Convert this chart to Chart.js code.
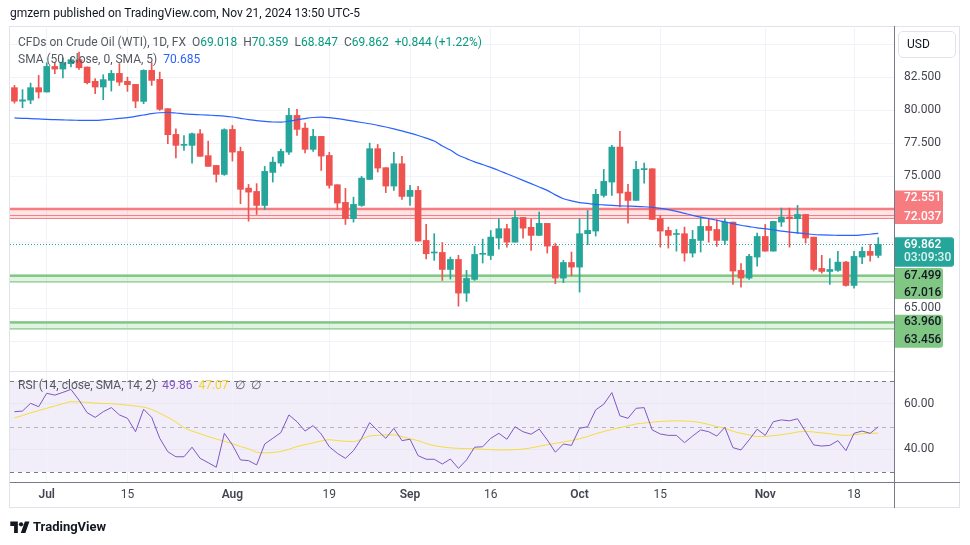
<!DOCTYPE html>
<html>
<head>
<meta charset="utf-8">
<title>CFDs on Crude Oil (WTI), 1D</title>
<script src="https://cdn.jsdelivr.net/npm/chart.js@4.4.1/dist/chart.umd.min.js"></script>
<style>
    html, body { margin: 0; padding: 0; background: #ffffff; }
    body {
        position: relative; width: 970px; height: 545px; overflow: hidden;
        font-family: Roboto, 'Noto Sans', sans-serif; color: #131722;
    }
    #chart { position: absolute; left: 0; top: 0; }
    .txt { position: absolute; white-space: pre; line-height: 16px; }
    .head { left: 10px; top: 5px; font-size: 12px; }
    .legend { left: 18px; font-size: 12px; color: #555862; }
    .legend .v { margin-left: 6px; }
    .up { color: #089981; }
    .sma { color: #2962ff; }
    .rsi { color: #7e57c2; }
    .rsima { color: #f2d52a; }
    .usd {
        position: absolute; left: 898px; top: 31px; width: 48px; height: 25px;
        border: 1px solid #e0e3eb; border-radius: 5px; padding-left: 8px;
        font-size: 12px; line-height: 25px;
    }
    .brand {
        position: absolute; left: 10px; top: 519px; font-size: 13px; font-weight: 700;
        display: flex; align-items: center; gap: 3px; line-height: 16px;
    }
</style>
</head>
<body>
<canvas id="chart" width="970" height="545"></canvas>
<div class="txt head">gmzern published on TradingView.com, Nov 21, 2024 13:50 UTC-5</div>
<div class="txt legend" id="legOhlc" style="top:34px"></div>
<div class="txt legend" id="legSma" style="top:51px"></div>
<div class="txt legend" id="legRsi" style="top:377px"></div>
<div class="usd">USD</div>
<div class="brand">
    <svg width="20" height="14" viewBox="0 0 36 26"><path d="M14 24H7V11H0V3h14v21z" fill="#131722"/><circle cx="20" cy="8" r="4" fill="#131722"/><path d="M28 24h-8.5L27 3h8.5L28 24z" fill="#131722"/></svg>
    <span>TradingView</span>
</div>
<script>
// daily candles, Jun 25 - Nov 21 2024 (weekdays)
const firstDay = '2024-06-25';
const lastDay = '2024-11-21';

const opens = [
    81.72, 80.70, 80.78, 81.72, 81.39, 83.33, 83.13, 83.54, 83.84, 83.28,
    82.20, 81.77, 82.27, 82.80, 82.20, 81.97, 80.68, 83.03, 82.35, 80.13,
    78.18, 77.35, 77.35, 78.23, 76.57, 75.83, 75.15, 78.56, 76.89, 74.11,
    73.86, 72.80, 75.30, 76.01, 76.84, 79.62, 78.66, 77.05, 78.03, 76.59,
    74.37, 73.03, 71.80, 72.80, 74.77, 77.10, 75.66, 74.27, 75.96, 73.48,
    73.94, 70.15, 69.20, 69.24, 67.95, 68.71, 66.16, 67.20, 69.10, 69.01,
    70.33, 71.04, 70.02, 71.89, 71.14, 70.53, 71.44, 69.72, 67.30, 68.48,
    68.13, 70.66, 70.86, 73.56, 74.57, 77.22, 73.81, 73.18, 75.51, 75.58,
    71.80, 70.91, 70.60, 70.66, 69.19, 70.15, 71.21, 70.98, 70.15, 71.54,
    67.88, 67.30, 68.89, 70.45, 69.34, 71.54, 71.92, 71.80, 72.12, 70.40,
    68.03, 67.80, 67.88, 68.51, 66.74, 68.89, 69.32, 69.018
];
const highs = [
    81.89, 81.57, 82.07, 82.65, 83.61, 83.61, 83.99, 83.99, 84.42, 83.30,
    82.40, 82.70, 83.03, 83.54, 82.52, 81.97, 83.08, 83.61, 82.90, 80.13,
    78.61, 78.10, 78.28, 78.54, 77.67, 75.83, 78.61, 78.86, 77.22, 74.39,
    74.45, 75.76, 76.46, 77.07, 80.15, 80.08, 79.04, 78.56, 78.03, 76.82,
    74.37, 74.09, 73.43, 75.00, 77.52, 77.42, 75.66, 76.82, 76.52, 74.32,
    74.24, 71.36, 70.66, 69.98, 68.89, 69.02, 67.88, 69.70, 70.25, 70.90,
    71.80, 71.36, 72.42, 71.89, 71.76, 72.30, 71.44, 69.92, 68.64, 69.27,
    71.80, 72.42, 74.02, 75.53, 77.35, 78.41, 74.39, 76.14, 76.01, 75.58,
    72.05, 71.16, 70.98, 71.16, 70.91, 71.92, 71.80, 71.72, 71.80, 71.54,
    68.39, 69.09, 70.70, 71.36, 71.59, 72.60, 72.60, 72.80, 72.12, 70.40,
    69.02, 68.77, 69.32, 68.56, 69.32, 69.64, 69.85, 70.359
];
const lows = [
    80.55, 80.20, 80.51, 80.93, 81.39, 82.78, 82.45, 83.30, 83.10, 82.00,
    81.27, 80.81, 81.46, 81.89, 81.44, 80.20, 80.51, 81.89, 80.00, 77.48,
    76.39, 76.97, 76.00, 76.52, 75.76, 74.57, 75.08, 76.16, 72.93, 71.61,
    72.12, 72.50, 74.57, 75.78, 76.67, 78.11, 76.77, 76.89, 75.45, 74.11,
    72.48, 71.36, 71.54, 72.73, 74.77, 75.33, 73.77, 73.94, 73.26, 72.80,
    70.10, 68.74, 68.64, 67.12, 67.22, 65.17, 65.53, 67.12, 68.44, 68.70,
    69.50, 69.64, 70.02, 70.33, 69.40, 70.53, 69.19, 66.87, 66.95, 67.48,
    66.24, 69.83, 70.48, 73.43, 73.56, 72.68, 71.46, 73.18, 74.49, 71.74,
    69.64, 69.57, 69.34, 68.58, 68.89, 69.27, 70.02, 69.70, 69.85, 66.82,
    66.61, 67.20, 68.20, 69.32, 69.34, 71.21, 69.64, 70.66, 69.95, 67.83,
    67.67, 66.82, 67.80, 66.69, 66.54, 68.39, 68.58, 68.847
];
const closes = [
    80.70, 80.80, 81.72, 81.39, 83.33, 83.13, 83.61, 83.84, 83.23, 82.10,
    81.77, 82.33, 82.80, 82.14, 81.95, 80.70, 83.03, 82.27, 80.08, 78.16,
    77.35, 77.42, 78.23, 76.52, 75.76, 75.15, 78.54, 76.84, 74.02, 73.81,
    72.80, 75.38, 76.08, 76.89, 79.62, 78.56, 77.05, 78.03, 76.54, 74.32,
    72.98, 71.80, 72.88, 74.87, 77.10, 75.63, 74.27, 75.96, 73.48, 73.94,
    70.10, 69.14, 69.24, 67.95, 68.71, 66.16, 67.27, 69.09, 69.14, 70.40,
    71.04, 70.02, 71.89, 71.08, 70.53, 71.44, 69.72, 67.30, 68.48, 68.13,
    70.66, 70.91, 73.64, 74.62, 77.22, 73.74, 73.18, 75.53, 75.59, 71.74,
    70.86, 70.53, 70.66, 69.19, 70.23, 71.21, 70.91, 70.15, 71.54, 67.83,
    67.30, 68.94, 70.45, 69.34, 71.59, 71.92, 71.80, 72.12, 70.33, 67.95,
    67.80, 67.95, 68.51, 66.74, 68.94, 69.32, 69.018, 69.862
];
const sma50 = [
    79.43, 79.40, 79.38, 79.35, 79.32, 79.30, 79.28, 79.26, 79.25, 79.24,
    79.24, 79.28, 79.33, 79.39, 79.45, 79.55, 79.65, 79.75, 79.82, 79.84,
    79.80, 79.74, 79.70, 79.67, 79.64, 79.61, 79.57, 79.50, 79.40, 79.30,
    79.22, 79.17, 79.12, 79.11, 79.18, 79.28, 79.38, 79.46, 79.49, 79.45,
    79.38, 79.28, 79.18, 79.08, 78.99, 78.87, 78.74, 78.60, 78.45, 78.28,
    78.10, 77.90, 77.68, 77.30, 77.00, 76.60, 76.35, 76.10, 75.90, 75.68,
    75.45, 75.20, 74.95, 74.70, 74.45, 74.20, 73.94, 73.60, 73.31, 73.15,
    73.02, 72.95, 72.88, 72.84, 72.80, 72.77, 72.75, 72.73, 72.70, 72.65,
    72.58, 72.48, 72.35, 72.20, 72.05, 71.92, 71.80, 71.68, 71.55, 71.42,
    71.30, 71.20, 71.10, 71.04, 70.95, 70.85, 70.78, 70.72, 70.66, 70.60,
    70.57, 70.55, 70.54, 70.53, 70.53, 70.57, 70.62, 70.685
];
const rsi14 = [
    56.5, 56.8, 60.2, 58.7, 64.6, 63.8, 65.0, 66.3, 61.6, 56.1,
    54.0, 56.5, 58.3, 55.1, 53.6, 47.7, 57.6, 54.0, 44.8, 38.9,
    36.7, 36.7, 40.9, 36.0, 34.1, 32.1, 47.0, 41.9, 35.3, 35.0,
    33.1, 42.3, 44.8, 47.3, 55.1, 52.1, 48.0, 50.4, 46.7, 41.1,
    38.2, 36.0, 39.4, 44.8, 51.7, 48.2, 44.8, 49.2, 43.8, 44.4,
    37.2, 35.6, 35.6, 33.5, 35.7, 31.6, 35.3, 40.9, 41.1, 44.8,
    47.0, 44.4, 49.9, 47.7, 46.6, 48.9, 44.1, 38.7, 42.3, 41.7,
    49.2, 49.9, 57.3, 59.8, 64.9, 54.7, 53.6, 58.0, 58.3, 48.5,
    46.7, 46.1, 46.1, 42.9, 45.8, 48.5, 47.7, 45.8, 49.6, 40.7,
    39.7, 44.1, 48.8, 46.1, 52.1, 52.9, 52.5, 53.4, 47.7, 41.9,
    41.4, 41.7, 43.8, 39.4, 47.0, 48.0, 47.0, 49.86
];
const rsiMa = [
    53.8, 54.8, 56.0, 57.0, 58.0, 59.0, 60.0, 60.9, 60.8, 60.6,
    60.3, 60.1, 60.0, 59.7, 59.4, 59.0, 58.5, 57.5, 55.8, 54.0,
    52.0, 49.5, 48.0, 46.8, 45.6, 44.5, 43.5, 42.5, 41.2, 40.2,
    38.7, 38.4, 38.6, 39.0, 40.0, 41.2, 42.0, 42.8, 43.6, 44.2,
    43.8, 43.5, 43.4, 44.5, 45.8, 46.1, 46.3, 46.3, 45.6, 44.6,
    43.8, 42.5, 41.6, 41.0, 40.6, 40.4, 40.3, 40.2, 40.0, 39.8,
    39.7, 39.7, 39.8, 40.1, 40.6, 41.3, 42.0, 42.6, 43.2, 43.8,
    44.6, 45.6, 46.8, 47.8, 48.7, 49.5, 50.3, 51.1, 51.5, 51.9,
    52.2, 52.4, 52.5, 52.4, 52.2, 51.7, 50.9, 50.0, 49.2, 47.9,
    47.0, 46.3, 45.6, 45.6, 46.0, 46.4, 46.9, 47.6, 47.8, 47.6,
    47.2, 46.8, 46.3, 46.1, 46.4, 46.8, 47.0, 47.07
];

// axes
const tickDates = ['2024-07-01', '2024-07-15', '2024-08-01', '2024-08-19', '2024-09-02',
    '2024-09-16', '2024-10-01', '2024-10-15', '2024-11-01', '2024-11-18'];
const tickNames = ['Jul', '15', 'Aug', '19', 'Sep', '16', 'Oct', '15', 'Nov', '18'];
const priceTicks = [62.5, 65, 67.5, 70, 72.5, 75, 77.5, 80, 82.5, 85];
const priceTickLabels = ['', '65.000', '', '', '', '75.000', '77.500', '80.000', '82.500', ''];
const rsiTicks = [40, 60];
const rsiLevels = [70, 50, 30];

// drawn zones (top, bottom)
const zoneTops = [72.551, 67.499, 63.960];
const zoneBottoms = [72.037, 67.016, 63.456];
const zoneKinds = ['res', 'sup', 'sup'];
const resistanceEdge = 71.83;
const countdown = '03:09:30';

const UP = '#26a69a';
const DOWN = '#ef5350';
const GRID = '#f0f3fa';

// trading days from the date range
function weekdays(a, b) {
    const out = [];
    const d = new Date(a + 'T00:00:00Z');
    const end = new Date(b + 'T00:00:00Z');
    while (d <= end) {
        const w = d.getUTCDay();
        if (w !== 0 && w !== 6) out.push(d.toISOString().slice(0, 10));
        d.setUTCDate(d.getUTCDate() + 1);
    }
    return out;
}
const days = weekdays(firstDay, lastDay);
const tickIdx = tickDates.map(d => days.indexOf(d));
const last = closes.length - 1;

// legends
const f3 = (v) => v.toFixed(3);
const chg = closes[last] - closes[last - 1];
document.getElementById('legOhlc').innerHTML =
    'CFDs on Crude Oil (WTI), 1D, FX' +
    `<span class="v">O<span class="up">${f3(opens[last])}</span></span>` +
    `<span class="v">H<span class="up">${f3(highs[last])}</span></span>` +
    `<span class="v">L<span class="up">${f3(lows[last])}</span></span>` +
    `<span class="v">C<span class="up">${f3(closes[last])}</span></span>` +
    `<span class="v up">+${f3(chg)} (+${(chg / closes[last - 1] * 100).toFixed(2)}%)</span>`;
document.getElementById('legSma').innerHTML =
    `SMA (50, close, 0, SMA, 5)<span class="v sma">${f3(sma50[last])}</span>`;
document.getElementById('legRsi').innerHTML =
    `RSI (14, close, SMA, 14, 2)<span class="v rsi">${rsi14[last].toFixed(2)}</span>` +
    `<span class="v rsima">${rsiMa[last].toFixed(2)}</span><span class="v">∅</span><span class="v">∅</span>`;

const candleColors = closes.map((c, i) => c >= opens[i] ? UP : DOWN);

const paneDecor = {
    id: 'paneDecor',
    beforeDraw(chart) {
        const { ctx, chartArea: a } = chart;
        const r = chart.scales.rsi;
        const top = r.getPixelForValue(rsiLevels[0]);
        const bottom = r.getPixelForValue(rsiLevels[2]);
        ctx.save();
        ctx.fillStyle = 'rgba(126, 87, 194, 0.1)';
        ctx.fillRect(a.left, top, a.right - a.left, bottom - top);
        ctx.restore();
    },
    beforeDatasetsDraw(chart) {
        const { ctx, chartArea: a } = chart;
        const y = chart.scales.y;
        const r = chart.scales.rsi;
        const w = a.right - a.left;
        ctx.save();

        // zones
        zoneTops.forEach((t, i) => {
            const yt = y.getPixelForValue(t);
            const yb = y.getPixelForValue(zoneBottoms[i]);
            const red = zoneKinds[i] === 'res';
            ctx.fillStyle = red ? 'rgba(242, 54, 69, 0.13)' : 'rgba(76, 175, 80, 0.16)';
            ctx.fillRect(a.left, yt, w, yb - yt);
            ctx.fillStyle = red ? '#f77c80' : '#81c784';
            ctx.fillRect(a.left, yt - 1, w, 2.5);
            ctx.fillRect(a.left, yb - 0.5, w, 1.2);
        });
        ctx.fillStyle = '#f77c80';
        ctx.fillRect(a.left, y.getPixelForValue(resistanceEdge) - 0.5, w, 1.2);

        // rsi levels
        ctx.lineWidth = 1;
        ctx.setLineDash([4, 4]);
        rsiLevels.forEach((lv, i) => {
            const py = Math.round(r.getPixelForValue(lv)) + 0.5;
            ctx.strokeStyle = i === 1 ? '#b2b5be' : '#787b86';
            ctx.beginPath();
            ctx.moveTo(a.left, py);
            ctx.lineTo(a.right, py);
            ctx.stroke();
        });

        // last price
        const lp = Math.round(y.getPixelForValue(closes[last])) + 0.5;
        ctx.setLineDash([1, 2]);
        ctx.strokeStyle = UP;
        ctx.beginPath();
        ctx.moveTo(a.left, lp);
        ctx.lineTo(a.right, lp);
        ctx.stroke();
        ctx.restore();
    },
    afterDraw(chart) {
        const { ctx, chartArea: a } = chart;
        const y = chart.scales.y;
        ctx.save();

        // frame, pane split and axis lines
        ctx.strokeStyle = '#e0e3eb';
        ctx.lineWidth = 1;
        ctx.strokeRect(9.5, 26.5, 950, 481);
        ctx.beginPath();
        ctx.moveTo(a.left, Math.round(chart.scales.rsi.top) + 0.5);
        ctx.lineTo(a.right, Math.round(chart.scales.rsi.top) + 0.5);
        ctx.stroke();
        ctx.strokeStyle = '#787b86';
        ctx.beginPath();
        ctx.moveTo(a.right + 0.5, 26);
        ctx.lineTo(a.right + 0.5, 508);
        ctx.moveTo(a.left, a.bottom + 0.5);
        ctx.lineTo(960, a.bottom + 0.5);
        ctx.stroke();

        // price badges
        const x0 = a.right + 1;
        const tx = a.right + 10;
        ctx.textBaseline = 'middle';
        ctx.textAlign = 'left';
        const badge = (top, bottom, width, fill) => {
            ctx.fillStyle = fill;
            ctx.beginPath();
            ctx.roundRect(x0, top, width, bottom - top, [0, 3, 3, 0]);
            ctx.fill();
        };

        const r2 = y.getPixelForValue(zoneBottoms[0]) + 1;
        const r1 = r2 - 18.4;
        badge(r1 - 7.7, r2 + 7.6, 48, '#f77c80');
        ctx.font = '500 12px Roboto';
        ctx.fillStyle = '#ffffff';
        ctx.fillText(zoneTops[0].toFixed(3), tx, r1);
        ctx.fillText(zoneBottoms[0].toFixed(3), tx, r2);

        const p1 = y.getPixelForValue(closes[last]) + 0.8;
        badge(p1 - 7.7, p1 + 21.8, 59, UP);
        ctx.fillStyle = '#ffffff';
        ctx.fillText(f3(closes[last]), tx, p1);
        ctx.fillStyle = 'rgba(255,255,255,0.85)';
        ctx.fillText(countdown, tx, p1 + 13);

        [1, 2].forEach((k) => {
            const g1 = y.getPixelForValue(zoneTops[k]) + 0.3;
            const g2 = g1 + 17.6;
            badge(g1 - 7.8, g2 + (k === 1 ? 5.6 : 7.7), 48, '#81c784');
            ctx.fillStyle = '#131722';
            ctx.fillText(zoneTops[k].toFixed(3), tx, g1);
            ctx.fillText(zoneBottoms[k].toFixed(3), tx, g2);
        });
        ctx.restore();
    }
};

Chart.defaults.font.family = "Roboto, 'Noto Sans', sans-serif";
Chart.defaults.font.size = 12;
Chart.defaults.color = '#434651';

new Chart(document.getElementById('chart'), {
    data: {
        datasets: [
            {
                type: 'line', label: 'SMA 50', yAxisID: 'y',
                data: sma50.map((v, i) => ({ x: i, y: v })),
                borderColor: '#2962ff', borderWidth: 1.2, pointRadius: 0,
                cubicInterpolationMode: 'monotone'
            },
            {
                type: 'line', label: 'RSI', yAxisID: 'rsi',
                data: rsi14.map((v, i) => ({ x: i, y: v })),
                borderColor: '#7e57c2', borderWidth: 1, pointRadius: 0, tension: 0
            },
            {
                type: 'line', label: 'RSI MA', yAxisID: 'rsi',
                data: rsiMa.map((v, i) => ({ x: i, y: v })),
                borderColor: '#f5dc3c', borderWidth: 1, pointRadius: 0,
                cubicInterpolationMode: 'monotone'
            },
            {
                type: 'bar', label: 'body', yAxisID: 'y',
                data: opens.map((o, i) => ({ x: i, y: [o, closes[i]] })),
                backgroundColor: candleColors, barThickness: 6, minBarLength: 1,
                grouped: false, borderWidth: 0
            },
            {
                type: 'bar', label: 'wick', yAxisID: 'y',
                data: lows.map((l, i) => ({ x: i, y: [l, highs[i]] })),
                backgroundColor: candleColors, barThickness: 1,
                grouped: false, borderWidth: 0
            }
        ]
    },
    options: {
        responsive: false,
        animation: false,
        events: [],
        layout: { padding: { left: 10, top: 28, right: 10, bottom: 37 } },
        plugins: { legend: { display: false }, tooltip: { enabled: false } },
        scales: {
            x: {
                type: 'linear', min: -0.55, max: 108.95, offset: false,
                afterBuildTicks: (s) => { s.ticks = tickIdx.map(v => ({ value: v })); },
                afterFit: (s) => { s.height = 26; },
                ticks: {
                    autoSkip: false, maxRotation: 0, padding: 6,
                    callback: (v) => tickNames[tickIdx.indexOf(v)],
                    font: (c) => ({ size: 12, weight: /[A-Z]/.test(tickNames[c.index] || '') ? '600' : '400' })
                },
                grid: { color: GRID, drawTicks: false, offset: false },
                border: { display: false }
            },
            y: {
                type: 'linear', position: 'right', stack: 'panes', stackWeight: 343,
                min: 60.26, max: 86.24,
                afterBuildTicks: (s) => { s.ticks = priceTicks.map(v => ({ value: v })); },
                afterFit: (s) => { s.width = 66; },
                ticks: {
                    autoSkip: false, padding: 10,
                    callback: (v) => priceTickLabels[priceTicks.indexOf(v)] || ''
                },
                grid: { color: GRID, drawTicks: false },
                border: { display: false }
            },
            rsi: {
                type: 'linear', position: 'right', stack: 'panes', stackWeight: 111,
                min: 25.6, max: 74.4,
                afterBuildTicks: (s) => { s.ticks = rsiTicks.map(v => ({ value: v })); },
                afterFit: (s) => { s.width = 66; },
                ticks: {
                    autoSkip: false, padding: 10,
                    callback: (v) => v.toFixed(2)
                },
                grid: { color: '#e9e6f3', drawTicks: false },
                border: { display: false }
            }
        }
    },
    plugins: [paneDecor]
});
</script>
</body>
</html>
